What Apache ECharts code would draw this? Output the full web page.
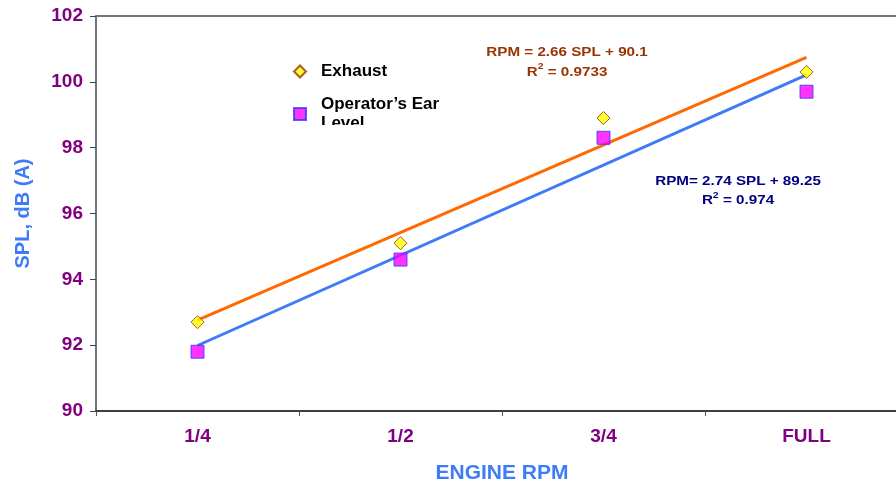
<!DOCTYPE html>
<html><head><meta charset="utf-8">
<script src="https://cdn.jsdelivr.net/npm/echarts@6/dist/echarts.min.js"></script>
<style>html,body{margin:0;padding:0;background:#fff}#c{width:896px;height:485px}</style>
</head><body><div id="c"></div>
<script>
const categories = ['1/4', '1/2', '3/4', 'FULL'];
const exhaust = [92.7, 95.1, 98.9, 100.3];
const operatorEar = [91.8, 94.6, 98.3, 99.7];
const exhaustTrendEnds = [['1/4', 92.76], ['FULL', 100.74]];
const operatorTrendEnds = [['1/4', 91.99], ['FULL', 100.21]];
const yTicks = [90, 92, 94, 96, 98, 100, 102];

const chart = echarts.init(document.getElementById('c'), null, {renderer: 'canvas'});
const FONT = '"Liberation Sans", Arial, sans-serif';
chart.setOption({
  animation: false,
  grid: {left: 96, width: 812, top: 16, bottom: 74, containLabel: false, outerBoundsMode: 'none'},
  xAxis: [{
    type: 'category', data: categories, boundaryGap: true, position: 'bottom',
    axisLine: {lineStyle: {color: '#000', width: 1.5}},
    axisTick: {show: true, length: 5, lineStyle: {color: '#555'}},
    axisLabel: {color: '#800080', fontFamily: FONT, fontWeight: 'bold', fontSize: 19, margin: 16},
    name: 'ENGINE RPM', nameLocation: 'middle', nameGap: 52,
    nameTextStyle: {color: '#3D7BF7', fontFamily: FONT, fontWeight: 'bold', fontSize: 21}
  }, {
    type: 'category', data: categories, position: 'top',
    axisLine: {show: true, lineStyle: {color: '#777', width: 2}},
    axisTick: {show: false}, axisLabel: {show: false}
  }],
  yAxis: {
    type: 'value', min: yTicks[0], max: yTicks[yTicks.length - 1], interval: 2,
    axisLine: {show: true, lineStyle: {color: '#3A4A5E', width: 1.5}},
    axisTick: {show: true, length: 6, lineStyle: {color: '#3A4A5E'}},
    splitLine: {show: false},
    axisLabel: {color: '#800080', fontFamily: FONT, fontWeight: 'bold', fontSize: 19, margin: 13},
    name: 'SPL, dB (A)', nameLocation: 'middle', nameGap: 63, nameRotate: 90,
    nameTextStyle: {color: '#3D7BF7', fontFamily: FONT, fontWeight: 'bold', fontSize: 20}
  },
  legend: {
    orient: 'vertical', left: 288, top: 57, itemGap: 14, itemWidth: 12, itemHeight: 12,
    textStyle: {color: '#000', fontFamily: FONT, fontWeight: 'bold', fontSize: 17, lineHeight: 19, padding: [0, 0, 0, 10]},
    data: [
      {name: 'Exhaust', icon: 'diamond'},
      {name: 'Operator’s Ear\nLevel', icon: 'rect'}
    ]
  },
  series: [
    {type: 'line', data: exhaustTrendEnds, symbol: 'none', lineStyle: {color: '#FF6A00', width: 3}, z: 2, silent: true},
    {type: 'line', data: operatorTrendEnds, symbol: 'none', lineStyle: {color: '#3D7BF7', width: 3}, z: 2, silent: true},
    {name: 'Exhaust', type: 'scatter', data: exhaust, symbol: 'diamond', symbolSize: 13,
     itemStyle: {color: '#FFFF00', borderColor: '#993300', borderWidth: 1}, z: 3},
    {name: 'Operator’s Ear\nLevel', type: 'scatter', data: operatorEar, symbol: 'rect', symbolSize: 13,
     itemStyle: {color: '#FF00FF', borderColor: '#3333FF', borderWidth: 1}, z: 3}
  ],
  graphic: [
    {type: 'rect', left: 310, top: 125, shape: {width: 160, height: 14}, style: {fill: '#fff'}, z: 100},
    {type: 'text', x: 567, y: 62, scaleX: 1.17, style: {
      text: '{a|RPM = 2.66 SPL + 90.1}\n{a|R}{s|2}{a| = 0.9733}', align: 'center', verticalAlign: 'middle',
      rich: {a: {fill: '#993300', fontFamily: FONT, fontWeight: 'bold', fontSize: 13, lineHeight: 20},
             s: {fill: '#993300', fontFamily: FONT, fontWeight: 'bold', fontSize: 9, verticalAlign: 'top', lineHeight: 20, padding: [0, 0, 8, 0]}}
    }, z: 100},
    {type: 'text', x: 738, y: 191, scaleX: 1.17, style: {
      text: '{a|RPM= 2.74 SPL + 89.25}\n{a|R}{s|2}{a| = 0.974}', align: 'center', verticalAlign: 'middle',
      rich: {a: {fill: '#000080', fontFamily: FONT, fontWeight: 'bold', fontSize: 13, lineHeight: 19},
             s: {fill: '#000080', fontFamily: FONT, fontWeight: 'bold', fontSize: 9, verticalAlign: 'top', lineHeight: 19, padding: [0, 0, 8, 0]}}
    }, z: 100}
  ]
});
</script></body></html>
